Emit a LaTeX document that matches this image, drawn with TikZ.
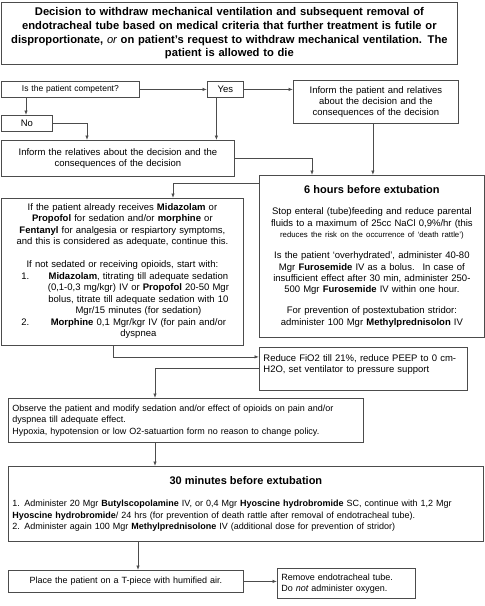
\documentclass[tikz,border=0pt]{standalone}
\usepackage{fontspec}
\setmainfont{Liberation Sans}
\usetikzlibrary{arrows.meta,calc}
\begin{document}
\begin{tikzpicture}[x=1pt,y=-1pt,
  box/.style={draw=black!70, line width=0.8pt, anchor=north west, inner xsep=4pt, inner ysep=2pt, font=\fontsize{9.5}{11.3}\selectfont},
  titlefont/.style={font=\fontsize{11.2}{13.8}\selectfont\bfseries},
  smallfont/.style={font=\fontsize{8.5}{10}\selectfont},
  midfont/.style={font=\fontsize{9}{11.3}\selectfont},
  arr/.style={draw=black!70, line width=0.8pt, -{Latex[length=4.5pt,width=3.5pt]}}]
\useasboundingbox (0,0) rectangle (485,606);

\node[box, titlefont, inner xsep=1pt, minimum width=456pt, minimum height=62pt, text width=454pt, align=center] (top) at (1,2)
{Decision to withdraw mechanical ventilation and subsequent removal of\\
endotracheal tube based on medical criteria that further treatment is futile or\\
disproportionate, {\mdseries\itshape or} on patient’s request to withdraw mechanical ventilation. The\\
patient is allowed to die};

\node[box, smallfont, minimum width=138pt, minimum height=16pt, text width=130pt, align=center] (comp) at (1,81) {Is the patient competent?};
\node[box, minimum width=36pt, minimum height=16pt, text width=28pt, align=center] (yes) at (207,81) {Yes};
\node[box, minimum width=165pt, minimum height=43pt, text width=157pt, align=center] (inform) at (293,80)
{Inform the patient and relatives\\about the decision and the\\consequences of the decision};
\node[box, minimum width=51pt, minimum height=16pt, text width=43pt, align=center] (no) at (1,115) {No};
\node[box, minimum width=233pt, minimum height=36pt, text width=225pt, align=center] (rel) at (1,140)
{Inform the relatives about the decision and the\\consequences of the decision};

\node[box, minimum width=225pt, minimum height=162pt, text width=217pt, align=center] (hsix) at (259,175)
{{\fontsize{11}{14}\selectfont\bfseries 6 hours before extubation}\\[10pt]
Stop enteral (tube)feeding and reduce parental\\
fluids to a maximum of 25cc NaCl 0,9\%/hr (this\\
{\fontsize{7.8}{10}\selectfont reduces the risk on the occurrence of ‘death rattle’)}\\[10pt]
Is the patient ‘overhydrated’, administer 40-80\\
Mgr \textbf{Furosemide} IV as a bolus.~ In case of\\
insufficient effect after 30 min, administer 250-\\
500 Mgr \textbf{Furosemide} IV within one hour.\\[10pt]
For prevention of postextubation stridor:\\
administer 100 Mgr \textbf{Methylprednisolon} IV};

\node[box, font=\fontsize{9.5}{11.5}\selectfont, minimum width=242pt, minimum height=147pt, text width=234pt, align=center] (mid) at (1,198)
{If the patient already receives \textbf{Midazolam} or\\
\textbf{Propofol} for sedation and/or \textbf{morphine} or\\
\textbf{Fentanyl} for analgesia or respiartory symptoms,\\
and this is considered as adequate, continue this.\\[11.5pt]
If not sedated or receiving opioids, start with:\\
\makebox[234pt][l]{\hspace{16pt}\makebox[22pt][l]{1.}\parbox[t]{190pt}{\centering\textbf{Midazolam}, titrating till adequate sedation\\(0,1-0,3 mg/kgr) IV or \textbf{Propofol} 20-50 Mgr\\bolus, titrate till adequate sedation with 10\\Mgr/15 minutes (for sedation)\strut}}\\
\makebox[234pt][l]{\hspace{16pt}\makebox[22pt][l]{2.}\parbox[t]{190pt}{\centering\textbf{Morphine} 0,1 Mgr/kgr IV (for pain and/or\\dyspnea\strut}}};

\node[box, minimum width=208pt, minimum height=43pt, text width=200pt, align=left] (reduce) at (259,347)
{Reduce FiO2 till 21\%, reduce PEEP to 0 cm-\\H2O, set ventilator to pressure support\\ \mbox{}};

\node[box, midfont, minimum width=355pt, minimum height=44pt, text width=347pt, align=left] (obs) at (8,398)
{Observe the patient and modify sedation and/or effect of opioids on pain and/or\\
dyspnea till adequate effect.\\
Hypoxia, hypotension or low O2-satuartion form no reason to change policy.};

\node[box, midfont, minimum width=475pt, minimum height=75pt, text width=467pt, align=left] (mthirty) at (8,466)
{\centering{\fontsize{11}{14}\selectfont\bfseries 30 minutes before extubation}\par\vspace{11pt}
\raggedright 1. Administer 20 Mgr \textbf{Butylscopolamine} IV, or 0,4 Mgr \textbf{Hyoscine hydrobromide} SC, continue with 1,2 Mgr\\
\textbf{Hyoscine hydrobromide}/ 24 hrs (for prevention of death rattle after removal of endotracheal tube).\\
2. Administer again 100 Mgr \textbf{Methylprednisolone} IV (additional dose for prevention of stridor)};

\node[box, midfont, minimum width=235pt, minimum height=22pt, text width=227pt, align=center] (place) at (8,570)
{Place the patient on a T-piece with humified air.};
\node[box, midfont, minimum width=138pt, minimum height=30pt, text width=130pt, align=left] (remove) at (277,568)
{Remove endotracheal tube.\\Do {\itshape not} administer oxygen.};

% connectors
\draw[arr] (comp.east) -- (yes.west);
\draw[arr] ([xshift=25pt]comp.south west) -- ([xshift=25pt]no.north west);
\draw[arr] (yes.east) -- (yes.east -| inform.west);
\draw[arr] ([xshift=-9pt]yes.south) -- ([xshift=-9pt]yes.south |- rel.north);
\draw[arr] (no.east) -| ([xshift=86pt]rel.north west);
\draw[arr] (rel.east) -| ([xshift=53pt]hsix.north west);
\draw[arr] ([xshift=-3pt]inform.south) -- ([xshift=-3pt]inform.south |- hsix.north);
\draw[arr] ([yshift=-8pt]hsix.north west) -| ([xshift=172pt]mid.north west);
\draw[arr] ([xshift=112pt]mid.south west) |- ([yshift=12pt]reduce.west);
\draw[arr] ([yshift=1pt]reduce.west) -| ([xshift=147pt]obs.north west);
\draw[arr] ([xshift=147pt]obs.south west) -- ([xshift=147pt]obs.south west |- mthirty.north);
\draw[arr] ([xshift=130pt]mthirty.south west) -- ([xshift=130pt]mthirty.south west |- place.north);
\draw[arr] (place.east) -- (place.east -| remove.west);
\end{tikzpicture}
\end{document}
